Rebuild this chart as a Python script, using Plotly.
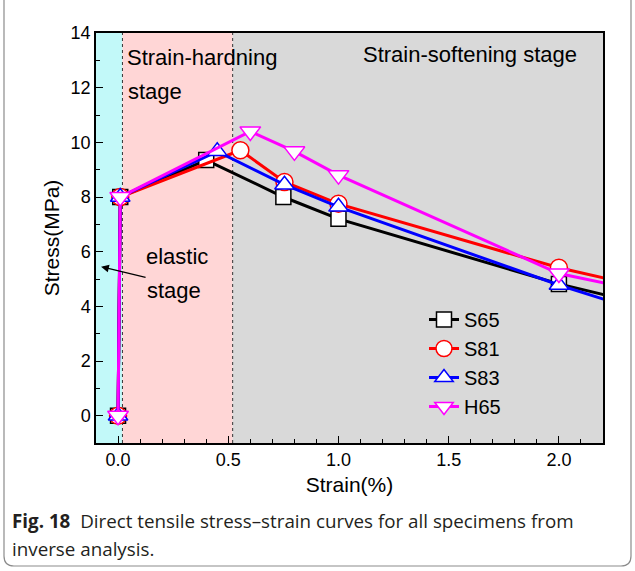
import plotly.graph_objects as go

# ---- data ----
s65_x = [0.0, 0.01, 0.40, 0.75, 1.0, 2.0, 2.5]
s65_y = [0.0, 8.0, 9.35, 8.0, 7.2, 4.82, 3.85]
s81_x = [0.0, 0.01, 0.555, 0.755, 1.0, 2.0, 2.5]
s81_y = [0.0, 8.0, 9.71, 8.55, 7.75, 5.41, 4.5]
s83_x = [0.0, 0.01, 0.45, 0.755, 1.0, 2.0, 2.5]
s83_y = [0.0, 8.0, 9.67, 8.45, 7.64, 4.78, 3.5]
h65_x = [0.0, 0.01, 0.60, 0.80, 1.0, 2.0, 2.5]
h65_y = [0.0, 8.0, 10.4, 9.67, 8.8, 5.2, 4.35]

series_names = ["S65", "S81", "S83", "H65"]
series_colors = ["#000000", "#ff0000", "#0000ff", "#ff00ff"]
series_symbols = ["square", "circle", "triangle-up", "triangle-down"]
series_sizes = [15, 17, 17, 18]

stage_bounds = [-0.1, 0.02, 0.52, 2.2]
stage_colors = ["#c2f9f9", "#ffd6d6", "#d9d9d9"]

W, H = 635, 571
L, R, T, B = 96, 32, 33, 128
PW, PH = W - L - R, H - T - B

def px(x):
    return (x - L) / PW

def py(y):
    return (H - B - y) / PH

fig = go.Figure()

xs = [s65_x, s81_x, s83_x, h65_x]
ys = [s65_y, s81_y, s83_y, h65_y]
for name, x, y, c, s, sz in zip(series_names, xs, ys, series_colors, series_symbols, series_sizes):
    fig.add_trace(go.Scatter(
        x=x, y=y, name=name, mode="lines+markers",
        line=dict(color=c, width=3),
        marker=dict(symbol=s, size=sz, color="white", line=dict(color=c, width=1.5)),
    ))

shapes = []
for i, col in enumerate(stage_colors):
    shapes.append(dict(type="rect", xref="x", yref="paper", x0=stage_bounds[i], x1=stage_bounds[i + 1],
                       y0=0, y1=1, fillcolor=col, line=dict(width=0), layer="below"))
for b in stage_bounds[1:3]:
    shapes.append(dict(type="line", xref="x", yref="paper", x0=b, x1=b, y0=0, y1=1,
                       line=dict(color="#333333", width=1, dash="dot"), layer="below"))

# outer caption frame with rounded corners
r = 10
path = (f"M {px(4)} {py(-5)} L {px(4)} {py(566 - r)} Q {px(4)} {py(566)} {px(4 + r)} {py(566)} "
        f"L {px(631 - r)} {py(566)} Q {px(631)} {py(566)} {px(631)} {py(566 - r)} L {px(631)} {py(-5)}")
shapes.append(dict(type="path", xref="paper", yref="paper", path=path,
                   line=dict(color="#8c8c8c", width=1.2)))

font = "Arial"
ann = []
def txt(x, y, t, size=22):
    ann.append(dict(x=x, y=y, xref="x", yref="y", text=t, showarrow=False,
                    font=dict(family=font, size=size, color="black")))

txt(0.382, 13.1, "Strain-hardning")
txt(0.168, 11.85, "stage")
txt(1.595, 13.2, "Strain-softening stage")
txt(0.268, 5.81, "elastic")
txt(0.252, 4.57, "stage")
ann.append(dict(x=-0.077, y=5.45, xref="x", yref="y", ax=46, ay=11, text="", showarrow=True,
                arrowhead=2, arrowsize=1.3, arrowwidth=1.2, arrowcolor="black"))

cap_font = dict(family="Open Sans", size=18.8, color="#231f20")
ann.append(dict(x=px(10), y=py(521), xref="paper", yref="paper", xanchor="left", yanchor="middle",
                showarrow=False, font=cap_font,
                text="<b>Fig. 18</b>  Direct tensile stress–strain curves for all specimens from"))
ann.append(dict(x=px(10), y=py(549), xref="paper", yref="paper", xanchor="left", yanchor="middle",
                showarrow=False, font=cap_font, text="inverse analysis."))

fig.update_layout(
    width=W, height=H, margin=dict(l=L, r=R, t=T, b=B),
    paper_bgcolor="white", plot_bgcolor="white",
    shapes=shapes, annotations=ann,
    font=dict(family=font, size=18, color="black"),
    legend=dict(x=px(424), y=py(300), xanchor="left", yanchor="top", bgcolor="rgba(0,0,0,0)",
                font=dict(family=font, size=20), tracegroupgap=0),
    showlegend=True,
)
fig.update_xaxes(
    range=[-0.1, 2.2], tickmode="array", tickvals=[0, 0.5, 1.0, 1.5, 2.0],
    ticktext=["0.0", "0.5", "1.0", "1.5", "2.0"],
    ticks="inside", ticklen=7, tickwidth=1, tickcolor="black",
    minor=dict(ticks="inside", ticklen=4, dtick=0.1, tick0=0, tickcolor="black"),
    showline=True, linecolor="black", linewidth=1.5, mirror=True, showgrid=False, zeroline=False,
    title=dict(text="Strain(%)", font=dict(family=font, size=21), standoff=8),
    tickfont=dict(family=font, size=18),
)
fig.update_yaxes(
    range=[-1, 14], tick0=0, dtick=2,
    ticks="inside", ticklen=7, tickwidth=1, tickcolor="black",
    minor=dict(ticks="inside", ticklen=4, dtick=1, tick0=0, tickcolor="black"),
    showline=True, linecolor="black", linewidth=1.5, mirror=True, showgrid=False, zeroline=False,
    title=dict(text="Stress(MPa)", font=dict(family=font, size=21), standoff=5),
    tickfont=dict(family=font, size=18),
)

fig.write_html("out.html")
